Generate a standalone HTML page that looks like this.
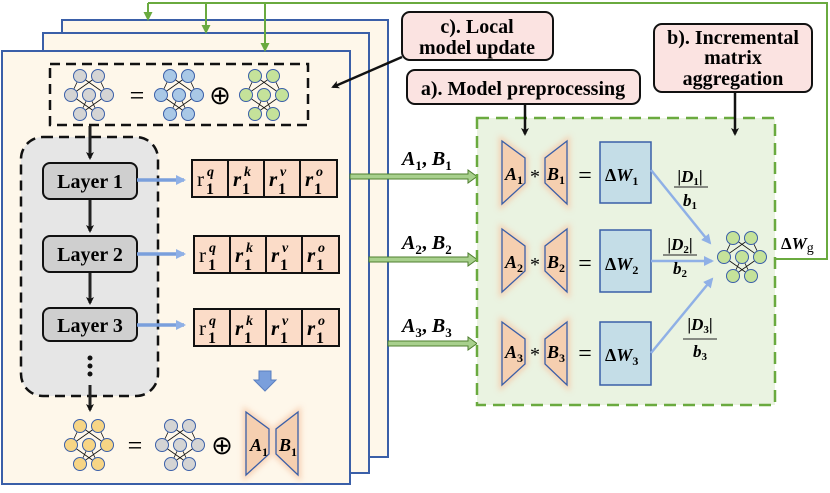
<!DOCTYPE html>
<html><head><meta charset="utf-8"><style>
html,body{margin:0;padding:0;background:#fff;}
svg, svg text{font-family:"Liberation Serif",serif;}
.b{font-weight:bold;}
</style></head><body>
<svg width="830" height="488" viewBox="0 0 830 488" xmlns="http://www.w3.org/2000/svg" font-family="Liberation Serif, serif">
<defs>
<marker id="ak" markerWidth="8" markerHeight="8" refX="6" refY="4" orient="auto" markerUnits="userSpaceOnUse"><path d="M0,0 L8,4 L0,8 L2,4z" fill="#111"/></marker>
<marker id="ag" markerWidth="9" markerHeight="9" refX="7" refY="4.5" orient="auto" markerUnits="userSpaceOnUse"><path d="M0,0 L9,4.5 L0,9z" fill="#6aaa3f"/></marker>
<marker id="ab" markerWidth="10" markerHeight="10" refX="8" refY="5" orient="auto" markerUnits="userSpaceOnUse"><path d="M0,0 L10,5 L0,10z" fill="#8fb0e6"/></marker>
<marker id="as" markerWidth="5" markerHeight="5" refX="4" refY="2.5" orient="auto" markerUnits="userSpaceOnUse"><path d="M0,0 L5,2.5 L0,5z" fill="#111"/></marker>
<g id="net">
<g stroke="#111" stroke-width="0.8" fill="none">
<line x1="-9" y1="-19" x2="-18" y2="0" marker-end="url(#as)"/><line x1="-9" y1="-19" x2="18" y2="0" marker-end="url(#as)"/>
<line x1="9" y1="-19" x2="-18" y2="0" marker-end="url(#as)"/><line x1="9" y1="-19" x2="18" y2="0" marker-end="url(#as)"/>
<line x1="-18" y1="0" x2="9" y2="19" marker-end="url(#as)"/><line x1="18" y1="0" x2="-9" y2="19" marker-end="url(#as)"/>
<line x1="0" y1="0" x2="-9" y2="19"/><line x1="0" y1="0" x2="9" y2="19"/>
</g>
<g fill="currentColor" stroke="#3a5fa8" stroke-width="1">
<circle cx="-9" cy="-19" r="6.5"/><circle cx="9" cy="-19" r="6.5"/>
<circle cx="-18" cy="0" r="6.5"/><circle cx="0" cy="0" r="6.5"/><circle cx="18" cy="0" r="6.5"/>
<circle cx="-9" cy="19" r="6.5"/><circle cx="9" cy="19" r="6.5"/>
</g>
</g>
<filter id="glow" x="-50%" y="-50%" width="200%" height="200%"><feGaussianBlur stdDeviation="3"/></filter>
<g id="trapA"><path d="M0,0 L23,17 L23,42 L0,63z" fill="#f5c7a7" stroke="#f5c7a7" stroke-width="6" filter="url(#glow)" opacity="0.8"/><path d="M0,0 L23,17 L23,42 L0,63z" fill="#f5cfb0" stroke="#3a5fa8" stroke-width="1.3"/></g>
<g id="trapB"><path d="M22,0 L0,17 L0,42 L22,63z" fill="#f5c7a7" stroke="#f5c7a7" stroke-width="6" filter="url(#glow)" opacity="0.8"/><path d="M22,0 L0,17 L0,42 L22,63z" fill="#f5cfb0" stroke="#3a5fa8" stroke-width="1.3"/></g>
<g id="rrow">
<rect x="0" y="0" width="145" height="37" fill="#fbdcc8" stroke="#111" stroke-width="2"/>
<line x1="36" y1="0" x2="36" y2="37" stroke="#111" stroke-width="2"/><line x1="72" y1="0" x2="72" y2="37" stroke="#111" stroke-width="2"/><line x1="108" y1="0" x2="108" y2="37" stroke="#111" stroke-width="2"/>
<text x="5" y="26" font-size="21">r</text><text x="15" y="16" font-size="14" class="b" font-style="italic">q</text><text x="14" y="34" font-size="16" class="b">1</text>
<text x="41" y="26" font-size="21" class="b" font-style="italic">r</text><text x="52" y="16" font-size="14" class="b" font-style="italic">k</text><text x="50" y="34" font-size="16" class="b">1</text>
<text x="77" y="26" font-size="21" class="b" font-style="italic">r</text><text x="88" y="16" font-size="14" class="b" font-style="italic">v</text><text x="86" y="34" font-size="16" class="b">1</text>
<text x="113" y="26" font-size="21" class="b" font-style="italic">r</text><text x="124" y="16" font-size="14" class="b" font-style="italic">o</text><text x="122" y="34" font-size="16" class="b">1</text>
</g>
</defs>

<!-- green feedback line -->
<polyline points="775,259 827,259 827,3 148,3" fill="none" stroke="#6aaa3f" stroke-width="2"/>

<!-- stacked frames -->
<rect x="62" y="20" width="326" height="437" fill="#fef7ea" stroke="#3a5fa8" stroke-width="2"/>
<rect x="43" y="33" width="326" height="440" fill="#fef7ea" stroke="#3a5fa8" stroke-width="2"/>
<rect x="2" y="51" width="348" height="433" fill="#fef7ea" stroke="#3a5fa8" stroke-width="2"/>

<g stroke="#6aaa3f" stroke-width="2">
<line x1="148" y1="3" x2="148" y2="19" marker-end="url(#ag)"/>
<line x1="206" y1="3" x2="206" y2="32" marker-end="url(#ag)"/>
<line x1="265" y1="3" x2="265" y2="50" marker-end="url(#ag)"/>
</g>

<!-- top dashed box -->
<rect x="50" y="64" width="258" height="61" fill="none" stroke="#111" stroke-width="2.5" stroke-dasharray="10,6"/>
<use href="#net" x="89" y="95" style="color:#d4d4d4"/>
<text x="137" y="104" font-size="26" text-anchor="middle">=</text>
<use href="#net" x="179" y="95" style="color:#a9c8e6"/>
<text x="220" y="104" font-size="26" text-anchor="middle">⊕</text>
<use href="#net" x="264" y="95" style="color:#c5e29a"/>

<!-- gray dashed region -->
<rect x="21" y="137" width="137" height="259" rx="22" fill="#e6e6e6" stroke="#111" stroke-width="2.5" stroke-dasharray="10,6"/>
<g stroke="#222" stroke-width="3">
<line x1="90" y1="126" x2="90" y2="158" marker-end="url(#ak)"/>
<line x1="90" y1="199" x2="90" y2="231" marker-end="url(#ak)"/>
<line x1="90" y1="272" x2="90" y2="303" marker-end="url(#ak)"/>
<line x1="90" y1="385" x2="90" y2="410" marker-end="url(#ak)"/>
</g>
<circle cx="90" cy="358" r="2.5" fill="#111"/><circle cx="90" cy="366" r="2.5" fill="#111"/><circle cx="90" cy="374" r="2.5" fill="#111"/>
<g fill="#cfcfcf" stroke="#111" stroke-width="2">
<rect x="43" y="163" width="94" height="36" rx="7"/>
<rect x="43" y="236" width="94" height="36" rx="7"/>
<rect x="43" y="308" width="94" height="33" rx="7"/>
</g>
<g font-size="20" class="b" text-anchor="middle" font-family="Liberation Serif, serif">
<text x="90" y="188">Layer 1</text><text x="90" y="261">Layer 2</text><text x="90" y="332">Layer 3</text>
</g>
<g stroke="#7a9fdc" stroke-width="3.5">
<line x1="137" y1="180" x2="184" y2="180" marker-end="url(#ab)"/>
<line x1="137" y1="254" x2="184" y2="254" marker-end="url(#ab)"/>
<line x1="137" y1="325" x2="184" y2="325" marker-end="url(#ab)"/>
</g>
<use href="#rrow" x="192" y="160"/>
<use href="#rrow" x="194" y="236"/>
<use href="#rrow" x="194" y="309"/>

<path d="M259,371 L271,371 L271,380 L276,380 L265,391 L254,380 L259,380z" fill="#7a9fdc" stroke="#5a7fc0" stroke-width="1"/>

<use href="#net" x="89" y="445" style="color:#f7d585"/>
<text x="135" y="454" font-size="26" text-anchor="middle">=</text>
<use href="#net" x="180" y="445" style="color:#d4d4d4"/>
<text x="222" y="454" font-size="26" text-anchor="middle">⊕</text>
<use href="#trapA" x="246" y="412"/>
<use href="#trapB" x="276" y="412"/>
<text x="250" y="451" font-size="18" class="b" font-style="italic">A</text><text x="262" y="456" font-size="12" class="b">1</text>
<text x="279" y="451" font-size="18" class="b" font-style="italic">B</text><text x="291" y="456" font-size="12" class="b">1</text>

<g fill="#a8d08d" stroke="#4f7f2f" stroke-width="1">
<path d="M350,174 L468,174 L468,170 L477,176.5 L468,183 L468,179 L350,179z"/>
<path d="M369,257 L468,257 L468,253 L477,259.5 L468,266 L468,262 L369,262z"/>
<path d="M388,341 L468,341 L468,337 L477,343.5 L468,350 L468,346 L388,346z"/>
</g>
<g font-size="20" class="b" font-style="italic">
<text x="402" y="165">A<tspan font-size="13" font-style="normal" dy="5">1</tspan><tspan dy="-5" font-style="normal">, </tspan>B<tspan font-size="13" font-style="normal" dy="5">1</tspan></text>
<text x="402" y="249">A<tspan font-size="13" font-style="normal" dy="5">2</tspan><tspan dy="-5" font-style="normal">, </tspan>B<tspan font-size="13" font-style="normal" dy="5">2</tspan></text>
<text x="402" y="332">A<tspan font-size="13" font-style="normal" dy="5">3</tspan><tspan dy="-5" font-style="normal">, </tspan>B<tspan font-size="13" font-style="normal" dy="5">3</tspan></text>
</g>

<rect x="477" y="118" width="298" height="287" fill="#eaf3e1" stroke="#6aaa3f" stroke-width="2.5" stroke-dasharray="12,7"/>

<use href="#trapA" x="502" y="141"/><use href="#trapB" x="545" y="141"/>
<use href="#trapA" x="502" y="229"/><use href="#trapB" x="545" y="229"/>
<use href="#trapA" x="502" y="322"/><use href="#trapB" x="545" y="322"/>
<g font-size="18" class="b" font-style="italic">
<text x="505" y="180">A<tspan font-size="12" font-style="normal" dy="4">1</tspan></text>
<text x="547" y="180">B<tspan font-size="12" font-style="normal" dy="4">1</tspan></text>
<text x="505" y="268">A<tspan font-size="12" font-style="normal" dy="4">2</tspan></text>
<text x="547" y="268">B<tspan font-size="12" font-style="normal" dy="4">2</tspan></text>
<text x="505" y="358">A<tspan font-size="12" font-style="normal" dy="4">3</tspan></text>
<text x="547" y="358">B<tspan font-size="12" font-style="normal" dy="4">3</tspan></text>
</g>
<g font-size="20" text-anchor="middle">
<text x="535" y="183">*</text><text x="535" y="271">*</text><text x="535" y="361">*</text>
<text x="585" y="183" font-size="24">=</text><text x="585" y="271" font-size="24">=</text><text x="585" y="361" font-size="24">=</text>
</g>
<g fill="#c4dde7" stroke="#3a5fa8" stroke-width="1.5">
<rect x="600" y="142" width="51" height="61"/>
<rect x="600" y="230" width="51" height="62"/>
<rect x="600" y="322" width="51" height="63"/>
</g>
<g font-size="18" class="b">
<text x="605" y="181">Δ<tspan font-style="italic">W</tspan><tspan font-size="12" dy="4">1</tspan></text>
<text x="605" y="270">Δ<tspan font-style="italic">W</tspan><tspan font-size="12" dy="4">2</tspan></text>
<text x="605" y="361">Δ<tspan font-style="italic">W</tspan><tspan font-size="12" dy="4">3</tspan></text>
</g>
<g stroke="#8fb0e6" stroke-width="2.5">
<line x1="651" y1="170" x2="710" y2="243" marker-end="url(#ab)"/>
<line x1="651" y1="261" x2="712" y2="261" marker-end="url(#ab)"/>
<line x1="651" y1="353" x2="712" y2="279" marker-end="url(#ab)"/>
</g>
<g font-size="17" class="b" text-anchor="middle">
<text x="690" y="182">|<tspan font-style="italic">D</tspan><tspan font-size="11" dy="3">1</tspan><tspan dy="-3">|</tspan></text>
<line x1="674" y1="187" x2="708" y2="187" stroke="#222" stroke-width="1"/>
<text x="690" y="206" font-style="italic">b<tspan font-size="11" font-style="normal" dy="3">1</tspan></text>
<text x="680" y="250">|<tspan font-style="italic">D</tspan><tspan font-size="11" dy="3">2</tspan><tspan dy="-3">|</tspan></text>
<line x1="663" y1="255" x2="697" y2="255" stroke="#222" stroke-width="1"/>
<text x="680" y="274" font-style="italic">b<tspan font-size="11" font-style="normal" dy="3">2</tspan></text>
<text x="700" y="330">|<tspan font-style="italic">D</tspan><tspan font-size="11" dy="3">3</tspan><tspan dy="-3">|</tspan></text>
<line x1="683" y1="339" x2="717" y2="339" stroke="#222" stroke-width="1"/>
<text x="700" y="357" font-style="italic">b<tspan font-size="11" font-style="normal" dy="3">3</tspan></text>
</g>
<use href="#net" x="742" y="257" style="color:#c5e29a"/>
<text x="781" y="249" font-size="17" class="b">Δ<tspan font-style="italic">W</tspan><tspan font-size="14" font-weight="normal" dy="3">g</tspan></text>

<g fill="#fbe3e1" stroke="#111" stroke-width="2">
<rect x="402" y="12" width="151" height="48" rx="8"/>
<rect x="407" y="70" width="233" height="34" rx="8"/>
<rect x="654" y="24" width="158" height="68" rx="8"/>
</g>
<g font-size="20" class="b" text-anchor="middle">
<text x="477" y="33">c). Local</text><text x="477" y="54">model update</text>
<text x="523" y="95">a). Model preprocessing</text>
<text x="733" y="44">b). Incremental</text><text x="733" y="64">matrix</text><text x="733" y="85">aggregation</text>
</g>
<g stroke="#111" stroke-width="2.5">
<line x1="402" y1="57" x2="333" y2="87" marker-end="url(#ak)"/>
<line x1="525" y1="104" x2="525" y2="134" marker-end="url(#ak)"/>
<line x1="735" y1="92" x2="735" y2="134" marker-end="url(#ak)"/>
</g>
</svg>
</body></html>
